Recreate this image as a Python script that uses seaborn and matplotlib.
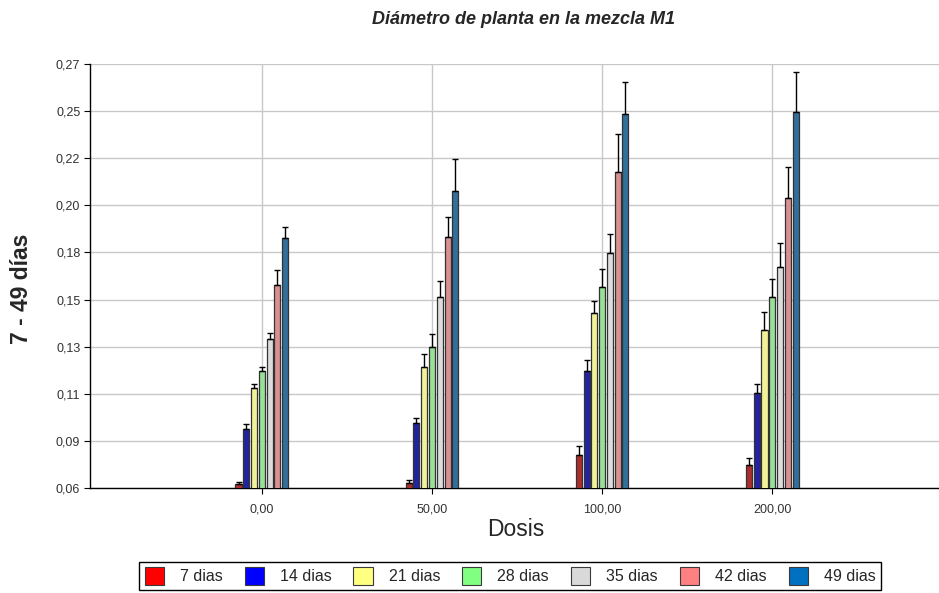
import numpy as np
import pandas as pd
import matplotlib
matplotlib.use("Agg")
import matplotlib.pyplot as plt
import seaborn as sns
from matplotlib.patches import Patch
from matplotlib.ticker import FixedLocator, FuncFormatter

# Doses (x categories) and sampling days (series)
dosis = ["0,00", "50,00", "100,00", "200,00"]
dias = ["7 dias", "14 dias", "21 dias", "28 dias", "35 dias", "42 dias", "49 dias"]

# Mean plant diameter per day, one value per dose
d7 = [0.0642, 0.0646, 0.0783, 0.0734]
d14 = [0.0910, 0.0940, 0.1193, 0.1086]
d21 = [0.1110, 0.1213, 0.1476, 0.1393]
d28 = [0.1193, 0.1310, 0.1603, 0.1555]
d35 = [0.1350, 0.1555, 0.1769, 0.1701]
d42 = [0.1613, 0.1848, 0.2165, 0.2038]
d49 = [0.1843, 0.2072, 0.2448, 0.2458]

# Upper error (standard error) per day, one value per dose
e7 = [0.0008, 0.0014, 0.0044, 0.0034]
e14 = [0.0024, 0.0024, 0.0054, 0.0044]
e21 = [0.0020, 0.0063, 0.0059, 0.0088]
e28 = [0.0020, 0.0064, 0.0088, 0.0088]
e35 = [0.0029, 0.0078, 0.0093, 0.0117]
e42 = [0.0073, 0.0097, 0.0186, 0.0152]
e49 = [0.0053, 0.0156, 0.0156, 0.0195]

colores = ["#FF0000", "#0000FF", "#FFFF80", "#80FF80", "#D9D9D9", "#FF8080", "#0070C0"]
barras = ["#C01818", "#0E0EB4", "#FFFF8C", "#8CEB8C", "#DCDCDC", "#E48484", "#1F72AE"]

medias = [d7, d14, d21, d28, d35, d42, d49]
errores = [e7, e14, e21, e28, e35, e42, e49]

df = pd.DataFrame(
    [(dosis[j], dias[i], medias[i][j]) for i in range(len(dias)) for j in range(len(dosis))],
    columns=["Dosis", "Dia", "Diametro"],
)

sns.set_style("white")
plt.rcParams["font.family"] = ["Liberation Sans", "DejaVu Sans"]

fig = plt.figure(figsize=(9.39, 5.93), dpi=100)
ax = fig.add_axes([90 / 939, 1 - 488 / 593, 849 / 939, 424 / 593])

sns.barplot(
    data=df, x="Dosis", y="Diametro", hue="Dia", order=dosis, hue_order=dias,
    palette=dict(zip(dias, barras)), width=0.32, gap=0.22, errorbar=None,
    edgecolor="#333333", linewidth=0.9, legend=False, ax=ax, zorder=3,
)

# One-sided error bars on top of each bar
for cont, vals, errs in zip(ax.containers, medias, errores):
    xs = [b.get_x() + b.get_width() / 2 for b in cont]
    ax.errorbar(xs, vals, yerr=[np.zeros(len(errs)), errs], fmt="none",
                ecolor="black", elinewidth=1.0, capsize=2.2, capthick=1.0, zorder=4)

# Axis scale and ticks
ymin, ystep = 0.0622, 0.023
yticks = [ymin + k * ystep for k in range(10)]
ax.set_ylim(yticks[0], yticks[-1])
ax.set_xlim(-1.01, 3.98)
ax.yaxis.set_major_locator(FixedLocator(yticks))
ax.yaxis.set_major_formatter(FuncFormatter(lambda v, p: f"{v:.2f}".replace(".", ",")))

ax.grid(True, color="#c8c8c8", linewidth=1.0, zorder=0)
ax.set_axisbelow(True)
for s in ["top", "right"]:
    ax.spines[s].set_visible(False)
for s in ["left", "bottom"]:
    ax.spines[s].set_color("black")
    ax.spines[s].set_linewidth(1.0)

ax.tick_params(axis="both", which="major", direction="out", length=4, width=0.8,
               color="black", labelsize=9, labelcolor="#333333", pad=3,
               left=True, bottom=True)
ax.tick_params(axis="x", pad=7)

ax.set_xlabel("")
ax.set_ylabel("")

fig.text(523 / 939, 1 - 19 / 593, "Diámetro de planta en la mezcla M1",
         ha="center", va="center", fontsize=13, fontweight="bold", fontstyle="italic")
fig.text(22 / 939, 1 - 289 / 593, "7 - 49 días", rotation=90, ha="center", va="center",
         fontsize=16.5, fontweight="bold")
fig.text(516 / 939, 1 - 530 / 593, "Dosis", ha="center", va="center", fontsize=16.5)

handles = [Patch(facecolor=c, edgecolor="#3a3a3a", linewidth=0.8) for c in colores]
leg = fig.legend(handles, dias, loc="center", bbox_to_anchor=(510 / 939, 1 - 576 / 593),
                 ncol=7, frameon=True, fancybox=False, edgecolor="black", framealpha=1,
                 fontsize=11.5, handlelength=1.2, handleheight=1.3, handletextpad=1.0,
                 columnspacing=1.38, borderpad=0.35)
leg.get_frame().set_linewidth(1.0)

fig.savefig("out.png", dpi=100)
